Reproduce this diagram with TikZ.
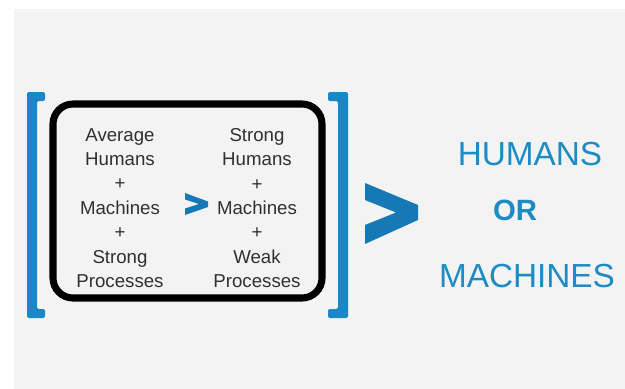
\documentclass[tikz,border=0pt]{standalone}
\usepackage{fontspec}
\setmainfont{Liberation Sans}
\usepackage{tikz}
\usetikzlibrary{positioning, calc}
\definecolor{bracketblue}{HTML}{1A87C9}
\definecolor{chevronblue}{HTML}{1679B5}
\definecolor{wordblue}{HTML}{1E8BC4}
\definecolor{bggray}{HTML}{F3F3F3}
\definecolor{textgray}{HTML}{303030}
\tikzset{
    column/.style = {align=center, text=textgray, inner sep=0pt,
        font=\fontsize{14}{18.3}\selectfont},
    bigword/.style = {text=wordblue, inner sep=0pt, anchor=base,
        font=\fontsize{25}{29}\selectfont},
    framebox/.style = {draw=black, line width=5.3pt, rounded corners=15pt},
    bracket/.style = {fill=bracketblue, rounded corners=1.5pt},
    chevron/.style = {fill=chevronblue},
}

\begin{document}
\begin{tikzpicture}[x=0.75pt, y=-0.75pt]
        \useasboundingbox (0,0) rectangle (625,389);
        \fill[white] (0,0) rectangle (625,389);
        \fill[bggray] (14,9) rectangle (625,389);
        % brackets and frame
        \fill[bracket] (45,92) -- (27,92) -- (27,318) -- (45,318) -- (45,309)
            -- (37,309) -- (37,101) -- (45,101) -- cycle;
        \fill[bracket] (328,92) -- (348,92) -- (348,318) -- (328,318) -- (328,309)
            -- (338,309) -- (338,101) -- (328,101) -- cycle;
        \draw[framebox] (53,104) rectangle (322,298);
        % the two columns
        \node [column] (leftcol) at (120,208)
            {Average\\Humans\\+\\Machines\\+\\Strong\\Processes};
        \node [column] (rightcol) at (257,208)
            {Strong\\Humans\\+\\Machines\\+\\Weak\\Processes};
        \coordinate (small) at ($(leftcol.east)!0.5!(rightcol.west)+(8,-4)$);
        \fill[chevron] ($(small)+(-11.5,-11)$) -- ($(small)+(11.5,-2.5)$) -- ($(small)+(11.5,3)$)
            -- ($(small)+(-11.5,11)$) -- ($(small)+(-11.5,4.5)$) -- ($(small)+(2.5,0)$)
            -- ($(small)+(-11.5,-4.5)$) -- cycle;
        % big chevron
        \fill[chevron] (365,183) -- (418,205) -- (418,220) -- (365,244) -- (365,225)
            -- (396,212.5) -- (365,200) -- cycle;
        % words
        \node [bigword] (humans) at (530,165) {HUMANS};
        \node [bigword, font=\fontsize{22}{26}\selectfont\bfseries] (or) at (515,220) {OR};
        \node [bigword] (machines) at (527,287) {MACHINES};
\end{tikzpicture}
\end{document}
